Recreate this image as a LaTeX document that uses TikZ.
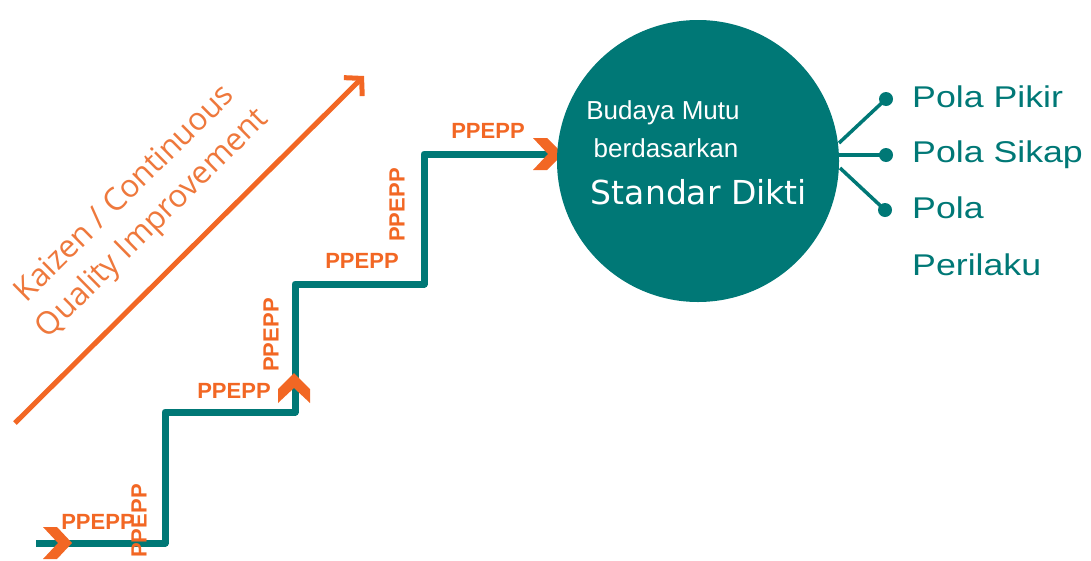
\documentclass[tikz,border=0pt]{standalone}
\usepackage{fontspec}
\setmainfont{Liberation Sans}
\newfontfamily\kaifont{Open Sans}
\newfontfamily\dejafont{DejaVu Sans}
\usetikzlibrary{arrows.meta}
\definecolor{teal1}{RGB}{0,120,118}
\definecolor{orng}{RGB}{242,103,36}
\definecolor{orngt}{RGB}{238,120,60}
\tikzset{
  stair/.style={draw=teal1, line width=7pt, line join=round},
  chev/.style={fill=orng, draw=none},
  lbl/.style={text=orng, font=\bfseries\fontsize{22}{26}\selectfont, inner sep=0pt},
  kai/.style={text=orngt, font=\kaifont\fontsize{31.5}{34}\selectfont, inner sep=0pt, rotate=44.6},
  intext/.style={text=white, inner sep=0pt},
  pola/.style={text=teal1, font=\fontsize{30}{34}\selectfont, inner sep=0pt, anchor=base west},
  dot/.style={circle, fill=teal1, minimum size=14pt, inner sep=0pt},
  spoke/.style={draw=teal1, line width=3.5pt}
}
\begin{document}
\begin{tikzpicture}[x=1pt,y=-1pt]
\path[use as bounding box] (0,0) rectangle (1091,560);
% staircase
\coordinate (s0) at (36,543);
\coordinate (s1) at (165,543);
\coordinate (s2) at (165,412);
\coordinate (s3) at (295,412);
\coordinate (s4) at (295,284);
\coordinate (s5) at (424,284);
\coordinate (s6) at (424,154);
\coordinate (s7) at (550,154);
\draw[stair] (s0) -- (s1) -- (s2) -- (s3) -- (s4) -- (s5) -- (s6) -- (s7);
% chevrons
\fill[chev] (43,527) -- (57,527) -- (72,543) -- (57,559) -- (43,559) -- (58,543) -- cycle;
\fill[chev] (533,138) -- (547,138) -- (563,154) -- (547,170) -- (533,170) -- (548,154) -- cycle;
\fill[chev] (294,373) -- (310,389) -- (310,403) -- (294,388) -- (278,403) -- (278,389) -- cycle;
% labels
\node[lbl] (h1) at (98,522) {PPEPP};
\node[lbl, rotate=90] (v1) at (139,521) {PPEPP};
\node[lbl] (h2) at (234,391) {PPEPP};
\node[lbl, rotate=90] (v2) at (271,335) {PPEPP};
\node[lbl] (h3) at (362,261) {PPEPP};
\node[lbl, rotate=90] (v3) at (397,205) {PPEPP};
\node[lbl] (h4) at (488,131) {PPEPP};
% kaizen arrow
\coordinate (a0) at (15,423);
\coordinate (a1) at (364,76);
\draw[orng, line width=5pt, -{Straight Barb[length=12pt,width=26pt,line width=5pt]}] (a0) -- (a1);
\node[kai] (k1) at (123,192) {Kaizen / Continuous};
\node[kai] (k2) at (153,224) {Quality Improvement};
% circle
\node[circle, fill=teal1, minimum size=282pt, inner sep=0pt] (c) at (698,161) {};
\node[intext, font=\fontsize{26}{30}\selectfont] (t1) at (663,113) {Budaya Mutu};
\node[intext, font=\fontsize{26}{30}\selectfont] (t2) at (666,148) {berdasarkan};
\node[intext, font=\dejafont\fontsize{33}{38}\selectfont] (t3) at (699,192) {Standar Dikti};
% spokes
\node[dot] (d1) at (886,99) {};
\node[dot] (d2) at (886,155) {};
\node[dot] (d3) at (885,210) {};
\coordinate (e1) at (839,143);
\coordinate (e2) at (838,155);
\coordinate (e3) at (840,168);
\draw[spoke] (e1) -- (d1.center);
\draw[spoke] (e2) -- (d2.center);
\draw[spoke] (e3) -- (d3.center);
\node[pola] (p1) at (912,107) {\scalebox{1.19}[1]{Pola Pikir}};
\node[pola] (p2) at (912,162) {\scalebox{1.19}[1]{Pola Sikap}};
\node[pola] (p3) at (912,218) {\scalebox{1.19}[1]{Pola}};
\node[pola] (p4) at (912,275) {\scalebox{1.19}[1]{Perilaku}};
\end{tikzpicture}
\end{document}
